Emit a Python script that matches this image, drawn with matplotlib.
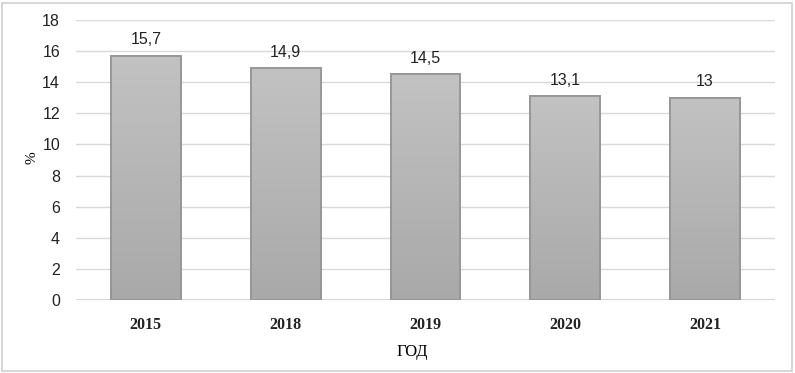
import matplotlib
matplotlib.use("Agg")
import matplotlib.pyplot as plt
import numpy as np
from matplotlib.patches import Rectangle
from matplotlib.colors import LinearSegmentedColormap

years = ["2015", "2018", "2019", "2020", "2021"]
values = [15.7, 14.9, 14.5, 13.1, 13.0]
labels = ["15,7", "14,9", "14,5", "13,1", "13"]
yticks = [0, 2, 4, 6, 8, 10, 12, 14, 16, 18]

W, H = 795, 373
fig = plt.figure(figsize=(W/100, H/100), dpi=100)
ax = fig.add_axes([76/W, 1-300/H, (775-76)/W, 280/H])

x = np.arange(len(years))
bars = ax.bar(x, values, width=0.5, color="#b8b8b8", edgecolor="#999999", linewidth=1.2, zorder=3)
grad = np.linspace(0, 1, 256).reshape(-1, 1)
cmap = LinearSegmentedColormap.from_list("g", ["#a9a9a9", "#c2c2c2"])
for b in bars:
    bx, by = b.get_x(), b.get_y()
    bw, bh = b.get_width(), b.get_height()
    im = ax.imshow(grad, extent=[bx, bx+bw, by, by+bh], origin="lower", aspect="auto",
                   cmap=cmap, zorder=3.5)
    im.set_clip_path(b)
    ax.add_patch(Rectangle((bx, by), bw, bh, fill=False, edgecolor="#959595", linewidth=1.3, zorder=4))

for xi, v, lab in zip(x, values, labels):
    ax.text(xi, v + 0.55, lab, ha="center", va="bottom", fontsize=11.5, family="Liberation Sans", color="#222222")

ax.set_xlim(-0.5, len(years)-0.5)
ax.set_ylim(0, 18)
ax.set_yticks(yticks)
ax.set_yticklabels([str(t) for t in yticks], fontsize=11.5, family="Liberation Sans", color="#222222")
ax.set_xticks(x)
ax.set_xticklabels(years, fontsize=11.5, family="Liberation Serif", fontweight="bold", color="#222222")
ax.tick_params(axis="both", length=0)
ax.tick_params(axis="x", pad=12)
ax.tick_params(axis="y", pad=11.5)
ax.grid(axis="y", color="#d9d9d9", linewidth=1, zorder=0)
for s in ax.spines.values():
    s.set_visible(False)
ax.axhline(0, color="#d0d0d0", linewidth=1.2, zorder=2)

fig.text(32/W, 1-158/H, "%", rotation=90, ha="center", va="center", fontsize=11, family="Liberation Serif")
fig.text(412/W, 1-352/H, "ГОД", ha="center", va="center", fontsize=12, family="Liberation Serif")

fig.add_artist(Rectangle((2/W, 2/H), (W-5)/W, (H-5)/H, transform=fig.transFigure,
                         fill=False, edgecolor="#d0d0d0", linewidth=1.2))

fig.savefig("out.png", dpi=100)
